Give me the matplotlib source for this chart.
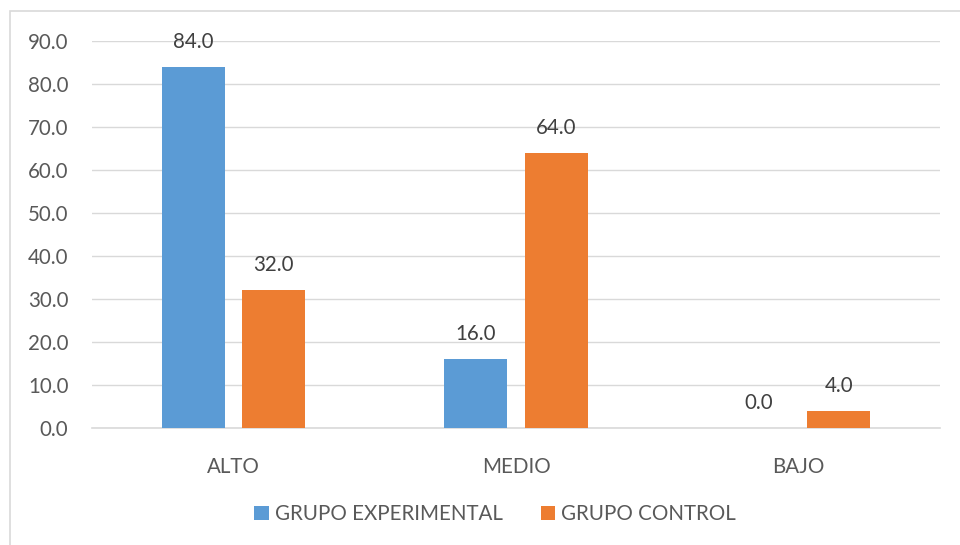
import matplotlib
matplotlib.use("Agg")
import matplotlib.pyplot as plt
import numpy as np
from matplotlib.patches import Rectangle

# data
categories = ["ALTO", "MEDIO", "BAJO"]
experimental = [84.0, 16.0, 0.0]
control = [32.0, 64.0, 4.0]
series_names = ["GRUPO EXPERIMENTAL", "GRUPO CONTROL"]
y_ticks = [0, 10, 20, 30, 40, 50, 60, 70, 80, 90]

blue = "#5B9BD5"
orange = "#ED7D31"
text_col = "#595959"
grid_col = "#D9D9D9"
fs = 14.8

plt.rcParams['font.family'] = ['Lato', 'DejaVu Sans']

W, H = 960, 545
fig = plt.figure(figsize=(W / 100, H / 100), dpi=100)

# chart border (left/top visible, rest cropped)
fig.patches.append(Rectangle((10 / W, -0.1), 1.2, 1.1 - 11 / H, transform=fig.transFigure,
                             fill=False, edgecolor="#D9D9D9", linewidth=1.2))

ax = fig.add_axes([92 / W, 1 - 428 / H, (940 - 92) / W, (428 - 41) / H])

x = np.arange(len(categories))
bw = 0.223
off = 0.142
b1 = ax.bar(x - off, experimental, bw, color=blue, label=series_names[0], zorder=3)
b2 = ax.bar(x + off, control, bw, color=orange, label=series_names[1], zorder=3)

for bars, vals in ((b1, experimental), (b2, control)):
    for r, v in zip(bars, vals):
        ax.text(r.get_x() + r.get_width() / 2, v + 3.5, f"{v:.1f}", ha="center", va="bottom",
                fontsize=fs, color="#404040")

ax.set_xlim(-0.5, 2.5)
ax.set_ylim(0, 90)
ax.set_yticks(y_ticks)
ax.set_yticklabels([f"{t:.1f}" for t in y_ticks])
ax.set_xticks(x)
ax.set_xticklabels(categories)
ax.tick_params(axis="both", length=0, labelsize=fs, labelcolor=text_col)
ax.tick_params(axis="y", pad=17)
ax.tick_params(axis="x", pad=21)
ax.grid(axis="y", color=grid_col, linewidth=1, zorder=0)
for s in ["top", "right", "left"]:
    ax.spines[s].set_visible(False)
ax.spines["bottom"].set_color(grid_col)
ax.spines["bottom"].set_linewidth(1.2)

fig.legend(loc="center", bbox_to_anchor=(495 / W, 1 - 514 / H), ncol=2, frameon=False,
           fontsize=fs, labelcolor=text_col, handlelength=0.7, handleheight=0.7,
           handletextpad=0.3, columnspacing=1.85)

fig.savefig("out.png", dpi=100)
